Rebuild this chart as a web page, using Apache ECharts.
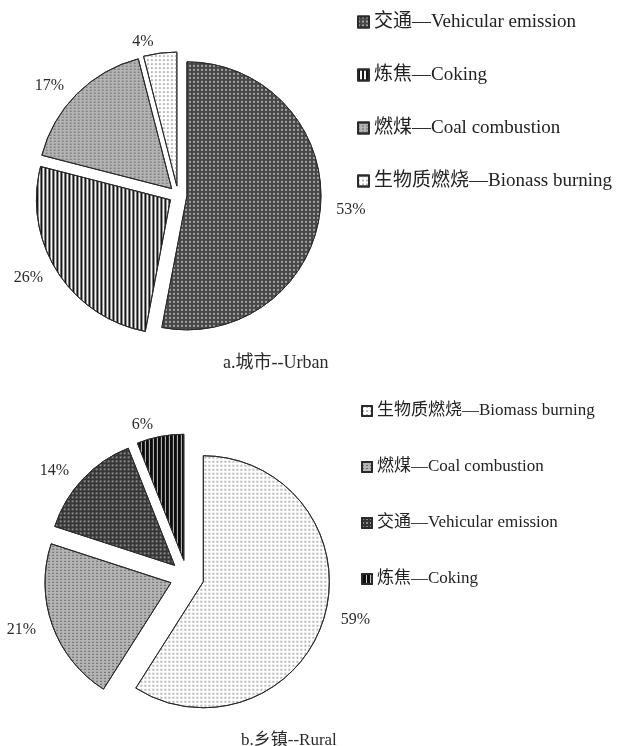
<!DOCTYPE html>
<html>
<head>
<meta charset="utf-8">
<script src="https://cdn.jsdelivr.net/npm/echarts@6/dist/echarts.min.js"></script>
<style>
html,body{margin:0;padding:0;background:#fff;}
#main{width:618px;height:746px;}
</style>
</head>
<body>
<div id="main"></div>
<script>
// ---- data ----
const categoriesA = ['交通—Vehicular emission', '炼焦—Coking', '燃煤—Coal combustion', '生物质燃烧—Bionass burning'];
const valuesA = [53, 26, 17, 4];
const categoriesB = ['生物质燃烧—Biomass burning', '燃煤—Coal combustion', '交通—Vehicular emission', '炼焦—Coking'];
const valuesB = [59, 21, 14, 6];
const captionA = 'a.城市--Urban';
const captionB = 'b.乡镇--Rural';

const serif = "'Liberation Serif', 'DejaVu Serif', 'Noto Sans CJK SC', serif";

// pattern styles per category key
function styleFor(name, variant) {
  if (name.indexOf('交通') === 0) {
    return variant === 'b'
      ? { color: '#363636', decal: { symbol: 'rect', symbolSize: 1, color: '#8a8a8a', dashArrayX: [2, 2], dashArrayY: [2, 2] } }
      : { color: '#484848', decal: { symbol: 'rect', symbolSize: 1, color: '#a0a0a0', dashArrayX: [2, 2], dashArrayY: [2, 2] } };
  }
  if (name.indexOf('炼焦') === 0) {
    return variant === 'b'
      ? { color: '#0c0c0c', decal: { symbol: 'rect', symbolSize: 1, color: '#c8c8c8', dashArrayX: [1, 3], dashArrayY: [4, 0] } }
      : { color: '#f4f4f4', decal: { symbol: 'rect', symbolSize: 1, color: '#151515', dashArrayX: [2, 2], dashArrayY: [4, 0] } };
  }
  if (name.indexOf('燃煤') === 0) {
    return { color: '#b4b4b4', decal: { symbol: 'rect', symbolSize: 1, color: '#6a6a6a', dashArrayX: [2, 2], dashArrayY: [1, 2] } };
  }
  return { color: '#ffffff', decal: { symbol: 'rect', symbolSize: 1, color: '#b8b8b8', dashArrayX: [2, 2], dashArrayY: [2, 2] } };
}

function buildData(cats, vals, variant, suffix) {
  return cats.map((c, i) => {
    const s = styleFor(c, variant);
    return {
      name: c + suffix,
      value: vals[i],
      selected: true,
      itemStyle: { color: s.color, decal: s.decal, borderColor: '#2a2a2a', borderWidth: 1 }
    };
  });
}

const dataA = buildData(categoriesA, valuesA, 'a', '');
const dataB = buildData(categoriesB, valuesB, 'b', ' ');

const chart = echarts.init(document.getElementById('main'), null, { renderer: 'canvas' });

const labelCfg = {
  show: true,
  position: 'outside',
  formatter: '{d}%',
  fontFamily: serif,
  fontSize: 16,
  color: '#2a2a2a'
};

chart.setOption({
  animation: false,
  backgroundColor: '#ffffff',
  title: [
    { text: captionA, left: 218, top: 349, textStyle: { fontFamily: serif, fontSize: 18, fontWeight: 'normal', color: '#2a2a2a' } },
    { text: captionB, left: 236, top: 727, textStyle: { fontFamily: serif, fontSize: 17, fontWeight: 'normal', color: '#2a2a2a' } }
  ],
  legend: [
    {
      orient: 'vertical', left: 352, top: 7, itemGap: 33, itemWidth: 11, itemHeight: 11,
      selectedMode: false, icon: 'rect',
      data: dataA.map(d => d.name),
      formatter: n => n.trim(),
      textStyle: { fontFamily: serif, fontSize: 19, color: '#222', lineHeight: 20 }
    },
    {
      orient: 'vertical', left: 356, top: 396, itemGap: 36, itemWidth: 10, itemHeight: 10,
      selectedMode: false, icon: 'rect',
      data: dataB.map(d => d.name),
      formatter: n => n.trim(),
      textStyle: { fontFamily: serif, fontSize: 17, color: '#222', lineHeight: 20 }
    }
  ],
  series: [
    {
      type: 'pie',
      center: [178, 195],
      radius: [0, 134],
      startAngle: 90,
      clockwise: true,
      selectedMode: 'multiple',
      selectedOffset: 9,
      avoidLabelOverlap: false,
      label: labelCfg,
      labelLine: { show: false, length: 11, length2: 0 },
      emphasis: { disabled: true },
      data: dataA
    },
    {
      type: 'pie',
      center: [187, 577],
      radius: [0, 126],
      startAngle: 90,
      clockwise: true,
      selectedMode: 'multiple',
      selectedOffset: 17,
      avoidLabelOverlap: false,
      label: labelCfg,
      labelLine: { show: false, length: 12, length2: 0 },
      emphasis: { disabled: true },
      data: dataB
    }
  ]
});
</script>
</body>
</html>
